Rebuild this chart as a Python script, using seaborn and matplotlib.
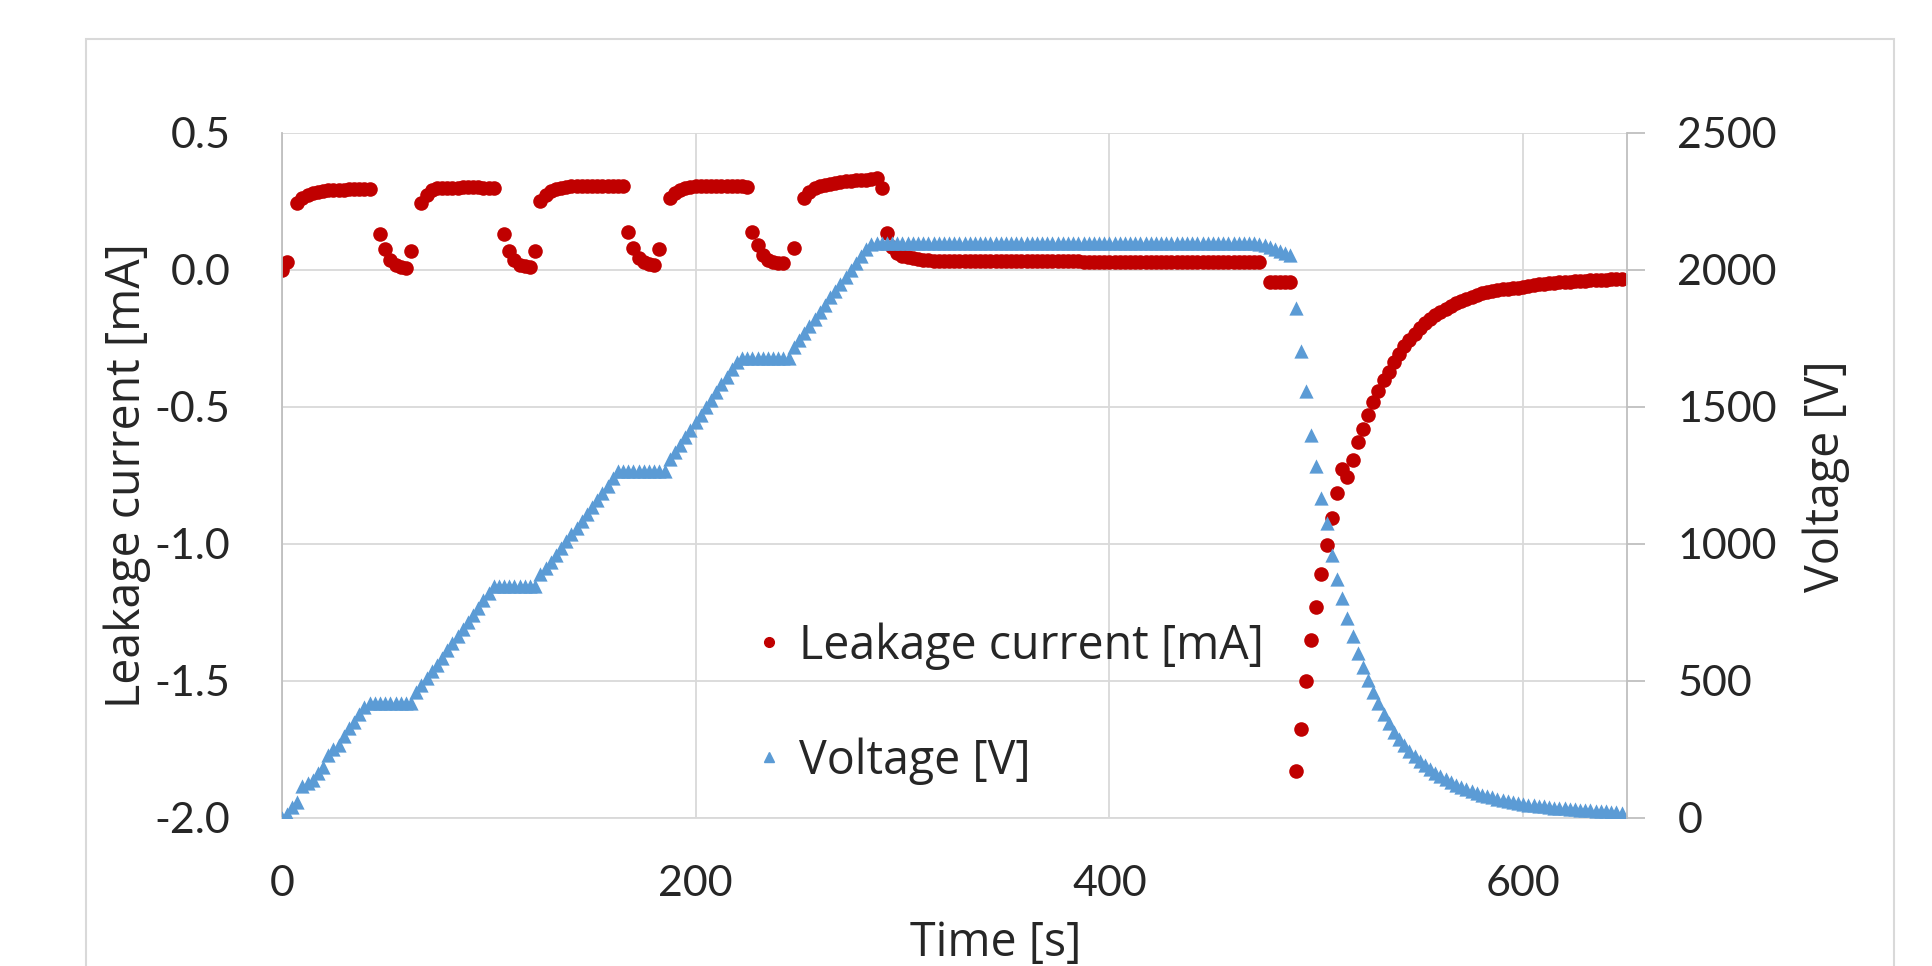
import numpy as np
import pandas as pd
import matplotlib
matplotlib.use("Agg")
import matplotlib.pyplot as plt
from matplotlib.lines import Line2D
from matplotlib.patches import Rectangle
import seaborn as sns

# data (sampling ~2.5 s)
time_s = [
    0, 2.5, 5, 7.5, 10, 12.5, 15, 17.5, 20, 22.5,
    25, 27.5, 30, 32.5, 35, 37.5, 40, 42.5, 45, 47.5,
    50, 52.5, 55, 57.5, 60, 62.5, 65, 67.5, 70, 72.5,
    75, 77.5, 80, 82.5, 85, 87.5, 90, 92.5, 95, 97.5,
    100, 102.5, 105, 107.5, 110, 112.5, 115, 117.5, 120, 122.5,
    125, 127.5, 130, 132.5, 135, 137.5, 140, 142.5, 145, 147.5,
    150, 152.5, 155, 157.5, 160, 162.5, 165, 167.5, 170, 172.5,
    175, 177.5, 180, 182.5, 185, 187.5, 190, 192.5, 195, 197.5,
    200, 202.5, 205, 207.5, 210, 212.5, 215, 217.5, 220, 222.5,
    225, 227.5, 230, 232.5, 235, 237.5, 240, 242.5, 245, 247.5,
    250, 252.5, 255, 257.5, 260, 262.5, 265, 267.5, 270, 272.5,
    275, 277.5, 280, 282.5, 285, 287.5, 290, 292.5, 295, 297.5,
    300, 302.5, 305, 307.5, 310, 312.5, 315, 317.5, 320, 322.5,
    325, 327.5, 330, 332.5, 335, 337.5, 340, 342.5, 345, 347.5,
    350, 352.5, 355, 357.5, 360, 362.5, 365, 367.5, 370, 372.5,
    375, 377.5, 380, 382.5, 385, 387.5, 390, 392.5, 395, 397.5,
    400, 402.5, 405, 407.5, 410, 412.5, 415, 417.5, 420, 422.5,
    425, 427.5, 430, 432.5, 435, 437.5, 440, 442.5, 445, 447.5,
    450, 452.5, 455, 457.5, 460, 462.5, 465, 467.5, 470, 472.5,
    475, 477.5, 480, 482.5, 485, 487.5, 490, 492.5, 495, 497.5,
    500, 502.5, 505, 507.5, 510, 512.5, 515, 517.5, 520, 522.5,
    525, 527.5, 530, 532.5, 535, 537.5, 540, 542.5, 545, 547.5,
    550, 552.5, 555, 557.5, 560, 562.5, 565, 567.5, 570, 572.5,
    575, 577.5, 580, 582.5, 585, 587.5, 590, 592.5, 595, 597.5,
    600, 602.5, 605, 607.5, 610, 612.5, 615, 617.5, 620, 622.5,
    625, 627.5, 630, 632.5, 635, 637.5, 640, 642.5, 645, 647.5,
]

voltage_v = [
    0, 15, 40, 60, 115, 128, 140, 165, 185, 230,
    250, 268, 300, 328, 350, 378, 405, 420, 420, 420,
    420, 420, 420, 420, 420, 420, 460, 485, 510, 535,
    560, 585, 612, 638, 663, 690, 715, 742, 768, 795,
    820, 845, 845, 845, 845, 845, 845, 845, 845, 845,
    890, 912, 935, 960, 985, 1010, 1035, 1060, 1085, 1110,
    1135, 1160, 1185, 1210, 1240, 1265, 1265, 1265, 1265, 1265,
    1265, 1265, 1265, 1265, 1265, 1310, 1335, 1360, 1390, 1415,
    1445, 1470, 1500, 1525, 1555, 1585, 1610, 1640, 1665, 1680,
    1680, 1680, 1680, 1680, 1680, 1680, 1680, 1680, 1680, 1720,
    1745, 1770, 1795, 1822, 1848, 1874, 1900, 1925, 1950, 1975,
    2000, 2025, 2050, 2075, 2095, 2100, 2100, 2100, 2100, 2100,
    2100, 2100, 2100, 2100, 2100, 2100, 2100, 2100, 2100, 2100,
    2100, 2100, 2100, 2100, 2100, 2100, 2100, 2100, 2100, 2100,
    2100, 2100, 2100, 2100, 2100, 2100, 2100, 2100, 2100, 2100,
    2100, 2100, 2100, 2100, 2100, 2100, 2100, 2100, 2100, 2100,
    2100, 2100, 2100, 2100, 2100, 2100, 2100, 2100, 2100, 2100,
    2100, 2100, 2100, 2100, 2100, 2100, 2100, 2100, 2100, 2100,
    2100, 2100, 2100, 2100, 2100, 2100, 2100, 2100, 2100, 2095,
    2090, 2085, 2078, 2068, 2062, 2055, 1860, 1703, 1560, 1397,
    1284, 1168, 1077, 961, 871, 802, 730, 665, 603, 552,
    505, 460, 420, 380, 345, 315, 290, 265, 245, 225,
    208, 192, 178, 165, 153, 142, 132, 122, 113, 105,
    98, 91, 85, 80, 75, 70, 66, 62, 58, 55,
    52, 49, 46, 44, 42, 40, 38, 36, 35, 33,
    32, 31, 29, 28, 27, 26, 24, 23, 22, 20,
]

current_ma = [
    0.00, 0.03, np.nan, 0.243, 0.262, 0.274, 0.281, 0.286, 0.289, 0.291,
    0.292, 0.293, 0.293, 0.294, 0.294, 0.294, 0.295, 0.295, np.nan, 0.13,
    0.075, 0.035, 0.018, 0.01, 0.008, 0.07, np.nan, 0.245, 0.275, 0.292,
    0.298, 0.299, 0.300, 0.301, 0.301, 0.302, 0.302, 0.302, 0.302, 0.301,
    0.301, 0.300, np.nan, 0.13, 0.07, 0.035, 0.02, 0.015, 0.012, 0.07,
    0.25, 0.272, 0.287, 0.296, 0.301, 0.303, 0.305, 0.305, 0.305, 0.305,
    0.306, 0.306, 0.306, 0.306, 0.305, 0.305, 0.305, 0.14, 0.08, 0.045,
    0.03, 0.022, 0.02, 0.077, np.nan, 0.262, 0.28, 0.292, 0.298, 0.303,
    0.305, 0.306, 0.306, 0.306, 0.307, 0.307, 0.307, 0.307, 0.306, 0.305,
    0.303, 0.14, 0.09, 0.055, 0.038, 0.03, 0.025, 0.024, np.nan, 0.081,
    np.nan, 0.262, 0.285, 0.298, 0.308, 0.312, 0.315, 0.318, 0.321, 0.323,
    0.325, 0.327, 0.329, 0.330, 0.332, 0.334, 0.298, 0.134, 0.085, 0.062,
    0.05, 0.046, 0.043, 0.04, 0.038, 0.036, 0.034, 0.034, 0.034, 0.034,
    0.034, 0.034, 0.034, 0.034, 0.034, 0.034, 0.034, 0.034, 0.034, 0.034,
    0.034, 0.034, 0.034, 0.034, 0.034, 0.034, 0.034, 0.034, 0.034, 0.034,
    0.034, 0.034, 0.034, 0.034, 0.034, 0.028, 0.028, 0.028, 0.028, 0.028,
    0.028, 0.028, 0.028, 0.028, 0.028, 0.028, 0.028, 0.028, 0.028, 0.028,
    0.028, 0.028, 0.028, 0.028, 0.028, 0.028, 0.028, 0.028, 0.028, 0.028,
    0.028, 0.028, 0.028, 0.028, 0.028, 0.028, 0.028, 0.028, 0.028, 0.028,
    np.nan, -0.045, -0.045, -0.045, -0.045, -0.045, -1.83, -1.675, -1.50, -1.35,
    -1.23, -1.11, -1.004, -0.905, -0.815, -0.726, -0.757, -0.692, -0.629, -0.58,
    -0.529, -0.48, -0.443, -0.40, -0.372, -0.337, -0.307, -0.278, -0.255, -0.232,
    -0.212, -0.195, -0.18, -0.166, -0.153, -0.142, -0.132, -0.122, -0.113, -0.105,
    -0.098, -0.09, -0.084, -0.08, -0.076, -0.072, -0.07, -0.068, -0.066, -0.064,
    -0.062, -0.058, -0.055, -0.052, -0.05, -0.048, -0.046, -0.045, -0.044, -0.042,
    -0.041, -0.04, -0.039, -0.038, -0.037, -0.036, -0.035, -0.034, -0.034, -0.033,
]

x_ticks = [0, 200, 400, 600]
left_ticks = [-2.0, -1.5, -1.0, -0.5, 0.0, 0.5]
left_tick_labels = ["-2.0", "-1.5", "-1.0", "-0.5", "0.0", "0.5"]
right_ticks = [0, 500, 1000, 1500, 2000, 2500]

df = pd.DataFrame({"time": time_s, "current": current_ma, "voltage": voltage_v})

RED = "#C00000"
BLUE = "#5B9BD5"
GRID = "#D9D9D9"
AXIS = "#BFBFBF"
FS = 31
TITLE_FS = 33.5
TITLE_FONT = ["Open Sans", "DejaVu Sans"]

sns.set_style("white")
plt.rcParams["font.family"] = ["Lato", "DejaVu Sans"]
plt.rcParams["axes.unicode_minus"] = False

fig = plt.figure(figsize=(19.33, 9.66), dpi=100)
ax = fig.add_axes([0.14573, 0.15321, 0.69581, 0.70911])
ax2 = ax.twinx()

# outer chart border
fig.patches.append(Rectangle((0.0445, -0.1), 0.9353, 1.0596, transform=fig.transFigure,
                             fill=False, edgecolor=GRID, lw=1.5))

sns.scatterplot(data=df, x="time", y="current", ax=ax, color=RED, marker="o",
                s=110, linewidth=0, legend=False)
sns.scatterplot(data=df, x="time", y="voltage", ax=ax2, color=BLUE, marker="^",
                s=105, linewidth=0, legend=False)

ax.set_xlim(0, 650)
ax.set_ylim(-2.0, 0.5)
ax2.set_ylim(0, 2500)
ax.set_xticks(x_ticks)
ax.set_yticks(left_ticks)
ax.set_yticklabels(left_tick_labels)
ax2.set_yticks(right_ticks)
ax.set_xlabel("")
ax.set_ylabel("")
ax2.set_ylabel("")

ax.grid(True, color=GRID, lw=1.3)
ax.set_axisbelow(True)
ax2.grid(False)

for s in ["top", "right"]:
    ax.spines[s].set_visible(False)
ax.spines["left"].set_color(AXIS)
ax.spines["bottom"].set_color(GRID)
ax.spines["left"].set_linewidth(1.3)
ax.spines["bottom"].set_linewidth(1.3)
for s in ["top", "left", "bottom"]:
    ax2.spines[s].set_visible(False)
ax2.spines["right"].set_color(AXIS)
ax2.spines["right"].set_linewidth(1.3)

ax.tick_params(axis="x", length=0, labelsize=FS, pad=34)
ax.tick_params(axis="y", length=0, labelsize=FS, pad=37)
ax2.tick_params(axis="y", length=13, width=1.3, color=AXIS, direction="out",
                labelsize=FS, pad=23.5)

fig.text(0.0657, 0.508, "Leakage current [mA]", rotation=90, ha="center", va="center",
         fontsize=TITLE_FS, family=TITLE_FONT)
fig.text(0.9446, 0.507, "Voltage [V]", rotation=90, ha="center", va="center",
         fontsize=TITLE_FS, family=TITLE_FONT)
fig.text(0.515, 0.010, "Time [s]", ha="center", va="baseline",
         fontsize=TITLE_FS, family=TITLE_FONT)

handles = [
    Line2D([], [], ls="", marker="o", color=RED, markersize=7),
    Line2D([], [], ls="", marker="^", color=BLUE, markersize=7),
]
ax2.legend(handles, ["Leakage current [mA]", "Voltage [V]"], loc="upper left",
           bbox_to_anchor=(0.3911, 0.356), bbox_transform=fig.transFigure,
           frameon=False, borderpad=0, borderaxespad=0, handlelength=0.55,
           handletextpad=0.38, labelspacing=1.45,
           prop={"family": TITLE_FONT, "size": TITLE_FS})

fig.savefig("out.png", dpi=100)
